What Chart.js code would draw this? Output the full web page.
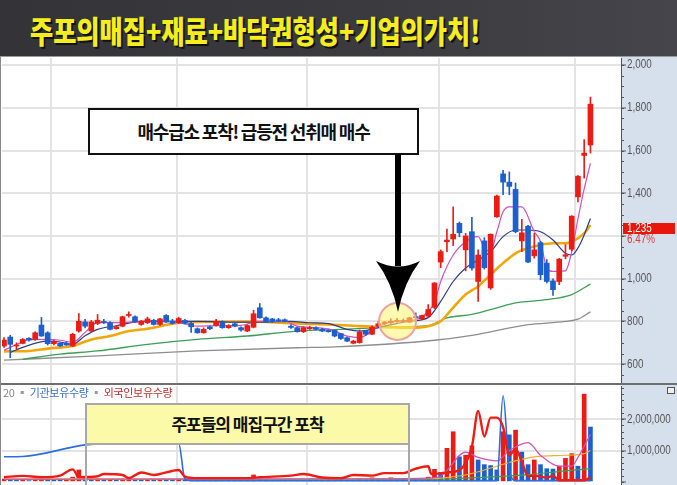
<!DOCTYPE html>
<html>
<head>
<meta charset="utf-8">
<script src="https://cdn.jsdelivr.net/npm/chart.js@4.4.1/dist/chart.umd.min.js"></script>
<style>
html,body{margin:0;padding:0;}
body{width:677px;height:485px;overflow:hidden;position:relative;background:#fff;font-family:"Noto Sans CJK KR",sans-serif;}
#titleBar{position:absolute;left:0;top:0;width:677px;height:56px;background:linear-gradient(90deg,#333338 0%,#3a3a3f 55%,#45454b 100%);}
#titleText{position:absolute;left:30px;top:13px;font-size:28px;font-weight:900;color:#f6ee1c;text-shadow:2px 2px 0 #111;white-space:nowrap;line-height:34px;transform:scale(0.9,1.08);transform-origin:left center;}
.line{position:absolute;left:0;width:677px;}
#priceBox{position:absolute;left:0;top:57px;}
#volBox{position:absolute;left:0;top:384px;}
canvas{display:block;}
.ax{position:absolute;font-family:"Liberation Sans",sans-serif;font-size:12px;line-height:12px;white-space:nowrap;transform:scaleX(0.82);transform-origin:left center;}
#note1{position:absolute;left:88px;top:108px;width:331px;height:47px;box-sizing:border-box;border:2px solid #111;background:#fff;font-size:18px;font-weight:700;letter-spacing:-1.2px;text-align:center;line-height:43px;color:#111;}
#note2{position:absolute;left:85px;top:403px;width:325px;height:42px;box-sizing:border-box;border:2px solid #a8a8a8;background:#fafaa8;font-size:17px;font-weight:700;letter-spacing:-1px;text-align:center;line-height:38px;color:#111;}
#legend{position:absolute;left:3px;top:386px;font-size:11px;line-height:12px;letter-spacing:-0.3px;white-space:nowrap;}
</style>
</head>
<body>
<div id="titleBar"><div id="titleText">주포의매집+재료+바닥권형성+기업의가치!</div></div>
<div class="line" style="top:56px;height:1px;background:#9a9a9a"></div>
<div id="priceBox"><canvas id="price" width="677" height="327"></canvas></div>
<div id="volBox"><canvas id="vol" width="677" height="101"></canvas></div>
<div class="line" style="top:383px;height:2px;background:#6e6e6e"></div>
<div style="position:absolute;left:0;top:57px;width:1px;height:428px;background:#8a8a8a"></div>

<div style="position:absolute;left:623px;top:223px;width:52px;height:11px;background:#e8170c;"></div>
<div class="ax" style="left:627px;top:222px;color:#fff">1,235</div>
<div class="ax" style="left:627px;top:233px;color:#e03a3a">6.47%</div>
<div style="position:absolute;left:667px;top:387px;width:6px;height:5px;border:1px solid #555;background:#eee"></div>

<div id="legend"><span style="color:#888">20</span> <span style="color:#999">▪</span> <span style="color:#3a6fd6">기관보유수량</span> <span style="color:#999">▪</span> <span style="color:#cc2a2a">외국인보유수량</span></div>

<div id="note1">매수급소 포착! 급등전 선취매 매수</div>
<div id="note2">주포들의 매집구간 포착</div>

<svg style="position:absolute;left:0;top:0" width="677" height="485">
  <circle cx="397.5" cy="321.5" r="18.5" fill="rgba(255,246,110,0.55)" stroke="#f2a0a0" stroke-width="2"/>
  <rect x="395" y="154" width="6" height="112" fill="#000"/>
  <path d="M376,261 Q398,272 420,261 Q404,282 398,312 Q392,282 376,261 Z" fill="#000"/>
  <rect x="86" y="444" width="323" height="45" fill="none" stroke="#a8a8a8" stroke-width="2"/>
</svg>

<script>
// ---------------------
// Price data (one entry per trading day)
// ---------------------
const opens = [685,727,685,697,721,716,783,747,696,698,698,685,755,798,755,791,800,794,766,778,828,822,786,794,
805,786,828,801,794,805,791,766,747,775,781,798,771,789,771,755,773,864,817,812,808,808,778,
771,752,766,771,763,758,758,743,724,698,701,755,740,778,790,794,800,800,797,822,
812,825,866,1078,1173,1186,1259,1135,1220,987,1177,957,1290,1491,1452,1418,1177,1246,1107,1169,1073,990,987,1105,1138,1383,1577,1626];
const highs = [724,735,700,720,725,752,819,752,712,700,705,745,837,810,805,833,810,800,780,825,845,826,805,820,
810,815,832,810,820,810,797,770,770,780,810,803,785,795,775,785,852,884,822,815,815,812,785,
775,775,778,775,768,762,760,745,728,712,760,758,780,800,800,813,815,812,820,840,
830,879,982,1135,1232,1336,1265,1212,1287,1135,1192,1210,1392,1507,1500,1448,1278,1250,1212,1175,1090,1000,1095,1160,1295,1483,1651,1850];
const lows = [679,630,672,695,708,712,730,690,690,683,688,683,750,770,750,785,790,760,764,775,820,795,782,790,
783,782,795,788,790,788,749,745,745,762,778,768,768,775,755,752,770,815,795,795,800,798,768,
750,748,763,760,752,750,728,716,705,695,698,735,738,775,785,790,795,796,795,815,
808,820,860,1052,1127,1155,1197,1037,1040,894,1045,950,1287,1393,1393,1215,1127,1075,1096,995,980,922,972,1093,1130,1359,1471,1588];
const closes = [713,693,690,716,713,747,732,696,706,685,690,740,801,778,798,806,795,763,775,822,832,799,801,812,
786,812,797,791,814,791,775,747,763,766,801,771,780,778,760,781,836,817,797,800,803,800,772,
752,771,771,763,755,752,732,720,708,708,750,740,773,789,797,801,802,803,817,818,
828,856,980,1127,1181,1208,1215,1200,1050,1111,1052,1208,1387,1452,1432,1220,1215,1078,1135,1019,987,949,1092,1112,1293,1480,1588,1817];

// moving average lines: [day, price]
const ma5 = [[0,665],[3,705],[4,715],[7,716],[9,712],[11,702],[13,749],[15,795],[19,795],[23,803],[27,800],[31,778],[34,780],[38,782],[41,801],[45,801],[47,778],[52,765],[55,732],[57,725],[60,778],[63,801],[66,809],[68,848],[69,888],[70,987],[72,1111],[74,1173],[76,1197],[77,1144],[78,1127],[79,1220],[80,1313],[81,1336],[83,1336],[85,1220],[86,1173],[87,1051],[88,1034],[90,1037],[91,1127],[92,1280],[93,1420],[94,1540]];
const ma10 = [[1,654],[3,679],[7,708],[9,704],[11,693],[13,733],[15,763],[18,780],[21,797],[23,800],[31,800],[39,797],[46,800],[49,794],[52,790],[55,763],[57,755],[61,778],[65,801],[68,818],[70,894],[72,987],[74,1050],[76,1088],[78,1127],[80,1197],[82,1228],[84,1228],[86,1220],[88,1181],[90,1119],[91,1111],[92,1144],[93,1205],[94,1282]];
const ma20 = [[0,660],[4,662],[7,673],[11,685],[14,716],[17,732],[20,755],[23,766],[28,794],[31,798],[39,800],[46,792],[52,786],[57,778],[60,775],[65,771],[68,778],[70,801],[72,865],[74,926],[76,964],[78,1019],[80,1073],[82,1119],[84,1143],[86,1158],[88,1166],[90,1166],[91,1173],[93,1212],[94,1251]];
const ma60 = [[3,623],[9,647],[15,662],[23,693],[31,716],[39,732],[47,755],[54,763],[60,771],[65,776],[68,780],[71,817],[75,833],[79,864],[82,887],[87,902],[91,926],[94,975]];
const ma120 = [[0,619],[15,639],[31,662],[47,677],[53,681],[69,712],[75,735],[84,785],[90,800],[92,811],[94,845]];

// ---------------------
// Volume panel data (thousands of shares)
// ---------------------
const volumeK = [90,60,50,70,40,80,120,90,60,50,70,150,380,120,90,110,60,80,50,70,100,60,50,80,
60,90,70,50,80,60,100,70,50,60,90,70,50,60,80,70,220,150,80,60,50,60,70,
50,60,50,40,50,60,80,70,60,50,90,70,130,80,70,130,90,80,100,80,
70,150,400,300,1070,1600,800,850,1150,700,550,520,380,1600,1500,1650,950,550,700,550,420,410,500,750,900,500,2800,1750];
const institutionK = [[0,800],[3,810],[13,1180],[17,1230],[28,1230],[29,90],[30,40],[79,40],[80,2750],[81,400],[82,40],[94,40]];
const foreignK = [[0,150],[3,190],[6,150],[9,200],[11,400],[12,150],[15,180],[16,250],[19,220],[20,120],[22,300],[24,220],[28,380],[29,170],[31,120],[39,120],[41,150],[46,200],[48,250],[51,140],[54,120],[56,220],[59,200],[61,280],[64,280],[66,420],[68,500],[68.5,250],[71,300],[73,380],[75,1120],[76,2260],[77,1450],[78,2050],[79,2050],[80,1750],[81,850],[82,1050],[83,650],[84,180],[85,200],[87,130],[88,200],[89,50],[93,50],[94,150]];
const volMa5K = [[0,80],[30,90],[60,100],[68,120],[70,180],[74,950],[76,780],[79,670],[81,1000],[84,1250],[86,850],[89,500],[91,500],[92,780],[94,1520]];
const volMa20K = [[0,100],[40,90],[68,100],[70,120],[74,220],[79,500],[82,670],[85,800],[90,850],[93,900],[94,1000]];
const volMa60K = [[0,90],[40,90],[68,80],[70,90],[79,170],[85,250],[90,350],[94,420]];

// ---------------------
// Axes
// ---------------------
const monthLines = [7.6, 27.7, 48.6, 69.7, 91.6];
const priceTicks = [600, 800, 1000, 1200, 1400, 1600, 1800, 2000];
const volTicks = [0, 1000000, 2000000];

const RED = "#ec1c14";
const BLUE = "#1c5fd0";
const GRID = "#e3e3e3";
const AXIS_BG = "#d6e0ec";

const days = closes.map((c, i) => i);
const pts = (list, k) => list.map(p => ({x: p[0], y: p[1] * (k || 1)}));
const candleColor = i => closes[i] >= opens[i] ? RED : BLUE;
const volColor = i => (i === 0 || volumeK[i] >= volumeK[i - 1]) ? RED : BLUE;

function lineSet(data, color, width, order){
    return {type: "line", data: data, borderColor: color, borderWidth: width, pointRadius: 0,
        cubicInterpolationMode: "monotone", order: order};
}

// right axis panel: background, minor ticks and narrow tick labels
const axisPanel = {
    id: "axisPanel",
    beforeDraw(chart){
        const ctx = chart.ctx;
        ctx.save();
        ctx.fillStyle = AXIS_BG;
        ctx.fillRect(chart.chartArea.right, 0, chart.width - chart.chartArea.right, chart.height);
        ctx.restore();
    },
    afterDraw(chart, args, opts){
        const s = chart.scales.y;
        const ctx = chart.ctx;
        const right = chart.chartArea.right;
        ctx.save();
        ctx.strokeStyle = "#555";
        ctx.lineWidth = 1;
        for (let val = Math.ceil(s.min / opts.minor) * opts.minor; val <= s.max; val += opts.minor) {
            const y = Math.round(s.getPixelForValue(val)) + 0.5;
            ctx.beginPath();
            ctx.moveTo(right, y);
            ctx.lineTo(right + 3, y);
            ctx.stroke();
        }
        ctx.fillStyle = "#555";
        ctx.font = "12px 'Liberation Sans', sans-serif";
        ctx.textBaseline = "middle";
        s.ticks.forEach(t => {
            const label = opts.label(t.value);
            if (!label) return;
            ctx.save();
            ctx.translate(right + 6, s.getPixelForValue(t.value));
            ctx.scale(0.82, 1);
            ctx.fillText(label, 0, 0);
            ctx.restore();
        });
        ctx.restore();
    }
};

function xAxis(){
    return {
        type: "linear", min: -0.32, max: 98.9, offset: false,
        afterBuildTicks: s => { s.ticks = monthLines.map(v => ({value: v})); },
        grid: {color: GRID, lineWidth: 2, drawTicks: false, offset: false},
        ticks: {display: false},
        border: {display: false},
        afterFit: s => { s.height = 0; }
    };
}

// ---------------------
// Price chart
// ---------------------
new Chart(document.getElementById("price"), {
    type: "bar",
    data: {
        datasets: [
            lineSet(pts(ma120), "#8e8e8e", 1.3, 6),
            lineSet(pts(ma60), "#3d9e55", 1.3, 5),
            lineSet(pts(ma20), "#f2a60a", 2.6, 4),
            lineSet(pts(ma10), "#2b3d8c", 1.2, 3),
            lineSet(pts(ma5), "#d24fc4", 1.2, 2),
            {
                data: days.map(i => ({x: i, y: [lows[i], highs[i]]})),
                backgroundColor: c => candleColor(c.dataIndex),
                barThickness: 1, grouped: false, order: 1
            },
            {
                data: days.map(i => ({x: i, y: [opens[i], closes[i]]})),
                backgroundColor: c => candleColor(c.dataIndex),
                barThickness: 5, minBarLength: 1, grouped: false, order: 0
            }
        ]
    },
    options: {
        responsive: false, animation: false,
        layout: {autoPadding: false, padding: {left: 2, top: 1, bottom: 1, right: 0}},
        plugins: {
            legend: {display: false}, tooltip: {enabled: false},
            axisPanel: {minor: 50, label: v => v === 1200 ? "" : v.toLocaleString("en-US")}
        },
        scales: {
            x: xAxis(),
            y: {
                position: "right", min: 512, max: 2033,
                afterBuildTicks: s => { s.ticks = priceTicks.map(v => ({value: v})); },
                afterFit: s => { s.width = 56; },
                grid: {color: GRID, lineWidth: 2, tickColor: "#555", tickLength: 5, tickWidth: 1},
                border: {display: true, color: "#555", width: 1},
                ticks: {display: false}
            }
        }
    },
    plugins: [axisPanel]
});

// ---------------------
// Volume chart
// ---------------------
new Chart(document.getElementById("vol"), {
    type: "bar",
    data: {
        datasets: [
            lineSet(pts(volMa60K, 1000), "#3d9e55", 1.2, 5),
            lineSet(pts(volMa20K, 1000), "#f2b030", 1.2, 4),
            lineSet(pts(volMa5K, 1000), "#d24fc4", 1.2, 3),
            lineSet(pts(institutionK, 1000), "#2b6ee0", 1.6, 2),
            lineSet(pts(foreignK, 1000), "#f01c14", 2.4, 1),
            {
                data: days.map(i => ({x: i, y: volumeK[i] * 1000})),
                backgroundColor: c => volColor(c.dataIndex),
                barThickness: 4, grouped: false, order: 6
            }
        ]
    },
    options: {
        responsive: false, animation: false,
        layout: {autoPadding: false, padding: {left: 2, top: 2, bottom: 0, right: 0}},
        plugins: {
            legend: {display: false}, tooltip: {enabled: false},
            axisPanel: {minor: 200000, label: v => v === 0 ? "" : v.toLocaleString("en-US")}
        },
        scales: {
            x: xAxis(),
            y: {
                position: "right", min: -100000, max: 3060000,
                afterBuildTicks: s => { s.ticks = volTicks.map(v => ({value: v})); },
                afterFit: s => { s.width = 56; },
                grid: {color: c => c.tick && c.tick.value === 0 ? "rgba(0,0,0,0)" : GRID, lineWidth: 2, tickColor: "#555", tickLength: 5, tickWidth: 1},
                border: {display: true, color: "#555", width: 1},
                ticks: {display: false}
            }
        }
    },
    plugins: [axisPanel]
});
</script>
</body>
</html>
